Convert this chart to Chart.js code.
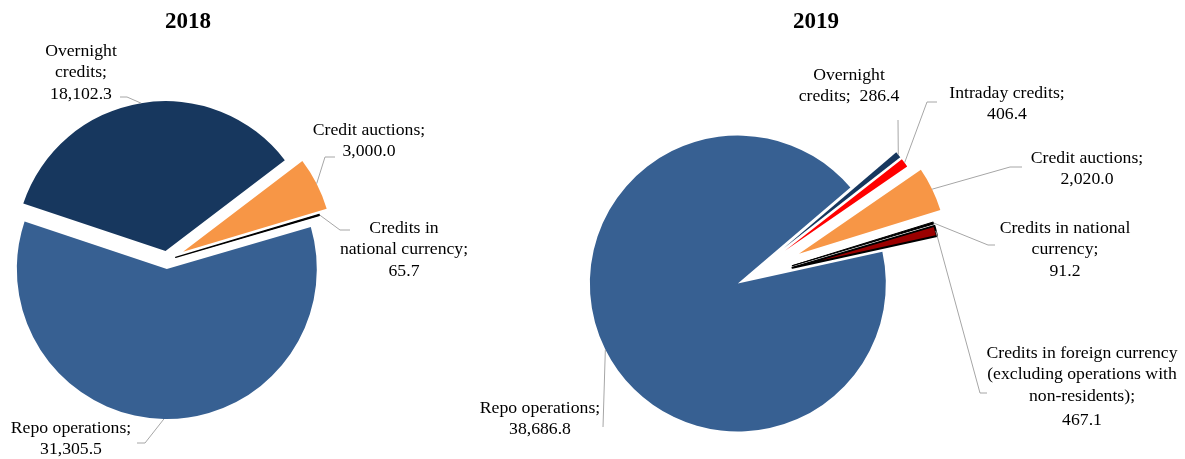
<!DOCTYPE html>
<html>
<head>
<meta charset="utf-8">
<script src="https://cdn.jsdelivr.net/npm/chart.js@4/dist/chart.umd.min.js"></script>
<style>
  body { margin: 0; background: #fff; overflow: hidden; }
  .box { position: absolute; top: 0; height: 459px; }
  #box2018 { left: -104px; width: 584px; }
  #box2019 { left: 445px; width: 740px; }
</style>
</head>
<body>
<div class="box" id="box2018"><canvas id="pie2018"></canvas></div>
<div class="box" id="box2019"><canvas id="pie2019"></canvas></div>
<script>
var categories2018 = ['Overnight credits', 'Credit auctions', 'Credits in national currency', 'Repo operations'];
var values2018 = [18102.3, 3000.0, 65.7, 31305.5];

var categories2019 = ['Overnight credits', 'Intraday credits', 'Credit auctions', 'Credits in national currency',
  'Credits in foreign currency (excluding operations with non-residents)', 'Repo operations'];
var values2019 = [286.4, 406.4, 2020.0, 91.2, 467.1, 38686.8];

var FONT = 'Liberation Serif';

function fmt(v) {
  return v.toLocaleString('en-US', {minimumFractionDigits: 1, maximumFractionDigits: 1});
}

// label text, its place and the leader bend, all relative to the pie centre
var labels2018 = [
  {text: 'Overnight\ncredits;\n{v}', dx: -86, dy: -209, line: [[-47, -163], [-40, -163]]},
  {text: 'Credit auctions;\n{v}', dx: 202, dy: -130, line: [[168, -103], [158, -103]]},
  {text: 'Credits in\nnational currency;\n{v}', dx: 237, dy: -32, line: [[183, -30], [173, -30]]},
  {text: 'Repo operations;\n{v}', dx: -96, dy: 168, line: [[-30, 183], [-22, 183]]}
];
var labels2019 = [
  {text: 'Overnight\ncredits;  {v}', dx: 104, dy: -205, line: [[153, -160]]},
  {text: 'Intraday credits;\n{v}', dx: 262, dy: -187, line: [[192, -178], [182, -178]]},
  {text: 'Credit auctions;\n{v}', dx: 342, dy: -122, line: [[277, -113], [265, -113]]},
  {text: 'Credits in national\ncurrency;\n{v}', dx: 320, dy: -52, line: [[250, -35], [243, -35]]},
  {text: 'Credits in foreign currency\n(excluding operations with\nnon-residents);\n{v}', dx: 337, dy: 73, gap: 3, line: [[242, 113], [235, 113]]},
  {text: 'Repo operations;\n{v}', dx: -205, dy: 128, line: [[-142, 147]]}
];

function piePlugin(title, titlePos, shift, labels) {
  return {
    id: 'pieExtras',
    beforeDatasetDraw: function(chart, args) {
      var ctx = chart.ctx;
      args.meta.data.forEach(function(arc, i) {
        var mid = (arc.startAngle + arc.endAngle) / 2;
        ctx.save();
        ctx.translate(Math.cos(mid) * shift[i], Math.sin(mid) * shift[i]);
        arc.draw(ctx);
        ctx.restore();
      });
      return false;
    },
    afterDraw: function(chart) {
      var ctx = chart.ctx;
      var arcs = chart.getDatasetMeta(0).data;
      var values = chart.data.datasets[0].data;
      var cx = arcs[0].x, cy = arcs[0].y;
      ctx.save();
      ctx.fillStyle = '#000';
      ctx.textAlign = 'center';
      ctx.textBaseline = 'middle';
      ctx.font = 'bold 23px "' + FONT + '"';
      ctx.fillText(title, cx + titlePos[0], cy + titlePos[1]);

      labels.forEach(function(lab, i) {
        var arc = arcs[i];
        var mid = (arc.startAngle + arc.endAngle) / 2;
        var r = arc.outerRadius + shift[i];
        ctx.strokeStyle = '#A6A6A6';
        ctx.lineWidth = 1;
        ctx.beginPath();
        ctx.moveTo(cx + lab.line[0][0], cy + lab.line[0][1]);
        for (var k = 1; k < lab.line.length; k++) {
          ctx.lineTo(cx + lab.line[k][0], cy + lab.line[k][1]);
        }
        ctx.lineTo(cx + Math.cos(mid) * r, cy + Math.sin(mid) * r);
        ctx.stroke();

        var lines = lab.text.replace('{v}', fmt(values[i])).split('\n');
        ctx.font = '17.7px "' + FONT + '"';
        lines.forEach(function(t, j) {
          var y = cy + lab.dy + j * 21.5 + (j == lines.length - 1 ? (lab.gap || 0) : 0);
          ctx.fillText(t, cx + lab.dx, y);
        });
      });
      ctx.restore();
    }
  };
}

function makePie(id, title, titlePos, cats, vals, colors, borders, rotation, radius, shift, labels, padTop, padRight) {
  return new Chart(document.getElementById(id), {
    type: 'pie',
    data: {
      labels: cats,
      datasets: [{
        data: vals,
        backgroundColor: colors,
        borderColor: '#000',
        borderWidth: borders,
        borderJoinStyle: 'round',
        radius: radius
      }]
    },
    options: {
      responsive: true,
      maintainAspectRatio: false,
      animation: false,
      events: [],
      rotation: rotation,
      layout: {padding: {left: 0, right: padRight, top: padTop, bottom: 0}},
      plugins: {
        legend: {display: false},
        tooltip: {enabled: false},
        title: {display: false}
      }
    },
    plugins: [piePlugin(title, titlePos, shift, labels)]
  });
}

makePie('pie2018', '2018', [21, -238], categories2018, values2018,
  ['#17375E', '#F79646', '#000000', '#376092'],
  [0, 0, 1.2, 0],
  -71.5, 150, [9, 18, 9, 9], labels2018, 61, 42);

makePie('pie2019', '2019', [71, -258], categories2019, values2019,
  ['#17375E', '#FF0000', '#F79646', '#000000', '#9B0000', '#376092'],
  [0, 0, 0, 1, 2, 0],
  49.5, 148, [50, 50, 60, 49, 49, 8], labels2019, 101, 140);
</script>
</body>
</html>
